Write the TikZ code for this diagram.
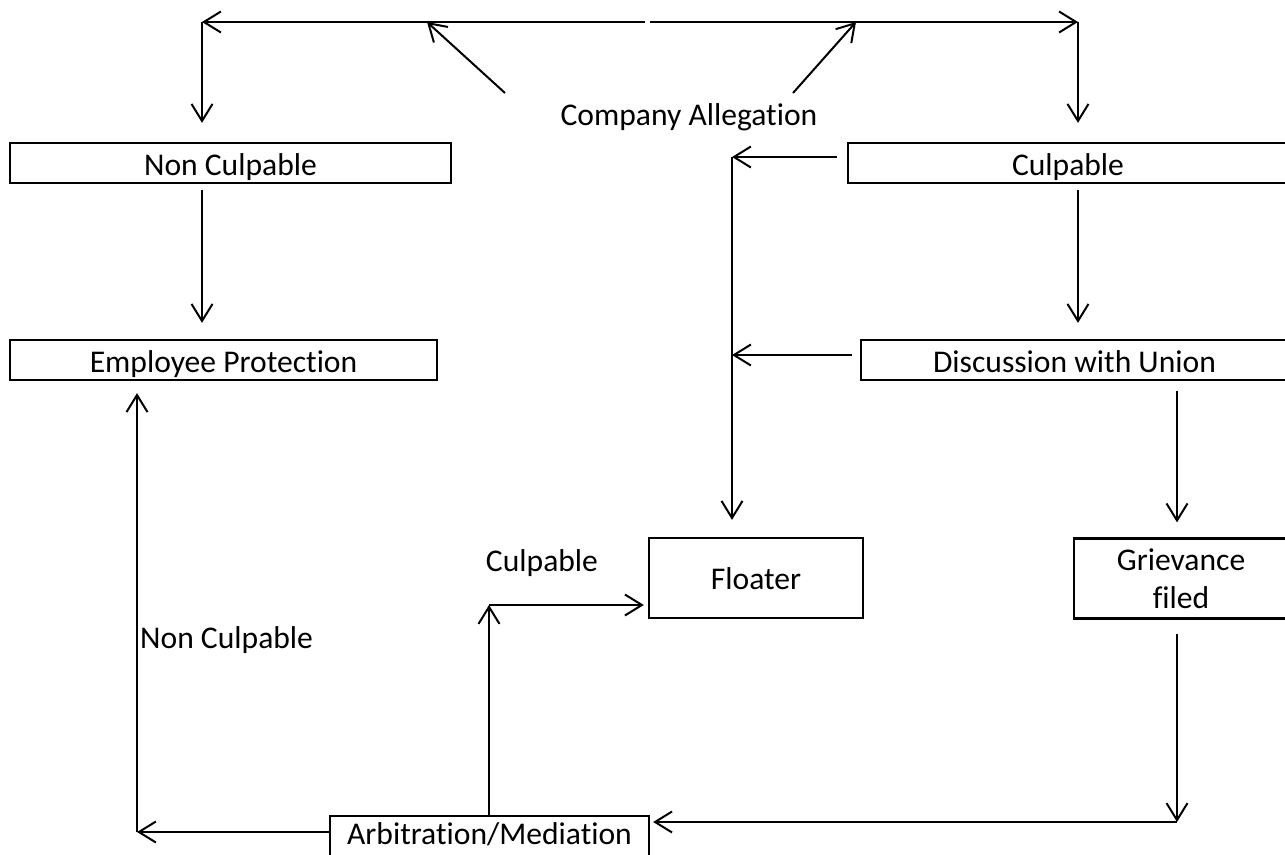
\documentclass[tikz,border=0pt]{standalone}
\usepackage{fontspec}
\setmainfont{Carlito}[Ligatures=NoCommon]
\usetikzlibrary{arrows.meta}
\begin{document}
\begin{tikzpicture}[x=1pt,y=-1pt,
  every node/.style={font=\fontsize{31.6pt}{38pt}\selectfont},
  boxnode/.style={draw,line width=2.3pt,inner xsep=0pt,inner ysep=0pt,text height=32pt,text depth=8pt},
  arr/.style={line width=2pt,-{Straight Barb[length=17pt,width=21pt]}},
  plain/.style={line width=2pt}
]
\useasboundingbox (0,0) rectangle (1285,854);
% boxes
\node[boxnode,minimum width=441pt] (nc) at (230.5,163) {Non Culpable};
\node[boxnode,minimum width=440pt] (cul) at (1068,163) {Culpable};
\node[boxnode,minimum width=427pt] (ep) at (223.5,360) {Employee Protection};
\node[boxnode,minimum width=427pt] (dwu) at (1074.5,360) {Discussion with Union};
\node[boxnode,minimum width=214pt,text height=51pt,text depth=29pt] (flo) at (756,578) {Floater};
\node[draw,line width=2.3pt,inner sep=0pt,minimum width=214pt,minimum height=80pt,align=center] (gf) at (1181,578.5) {Grievance\\filed};
\node[draw,line width=2.3pt,inner xsep=0pt,inner ysep=5pt,text height=23pt,text depth=25pt,minimum width=319pt,anchor=north] (am) at (489.5,815) {Arbitration/Mediation};
% labels
\node[anchor=base,inner sep=0pt] (ca) at (689,125) {Company Allegation};
\node[anchor=base,inner sep=0pt] (lcul) at (542,571) {Culpable};
\node[anchor=base west,inner sep=0pt] (lnc) at (140,648) {Non Culpable};
% coordinates
\coordinate (tm1) at (645,22);
\coordinate (tm2) at (650,22);
\coordinate (tl) at (202,22);
\coordinate (tr) at (1078,22);
\coordinate (ta) at (427,22);
\coordinate (tb) at (856,22);
\coordinate (ca1) at (505,93);
\coordinate (ca2) at (793,93);
\coordinate (fl1) at (732,157);
\coordinate (fl2) at (732,355);
\coordinate (gc) at (1177,822);
\coordinate (lc) at (137,832);
\coordinate (mc) at (489,605);
% top connectors
\draw[arr] (tm1) -- (tl);
\draw[arr] (tm2) -- (tr);
\draw[arr] (ca1) -- (ta);
\draw[arr] (ca2) -- (tb);
\draw[arr,shorten >=19pt] (tl) -- (tl |- nc.north);
\draw[arr,shorten >=19pt] (tr) -- (tr |- cul.north);
% left column
\draw[arr,shorten <=6pt,shorten >=16pt] (nc.south -| tl) -- (ep.north -| tl);
% right column
\draw[arr,shorten <=6pt,shorten >=16pt] (cul.south -| tr) -- (dwu.north -| tr);
\draw[arr,shorten <=10pt] (cul.west |- fl1) -- (fl1);
\draw[arr,shorten >=17pt] (fl1) -- (fl1 |- flo.north);
\draw[arr,shorten <=8pt] (dwu.west |- fl2) -- (fl2);
\draw[arr,shorten <=10pt,shorten >=15pt] (dwu.south -| gc) -- (gf.north -| gc);
\draw[arr,shorten <=14pt] (gf.south -| gc) -- (gc);
\draw[arr,shorten >=3pt] (gc) -- (am.east |- gc);
% arbitration outputs
\draw[arr] (am.west |- lc) -- (lc);
\draw[arr,shorten >=12pt] (lc) -- (lc |- ep.south);
\draw[arr] (am.north -| mc) -- (mc);
\draw[arr,shorten >=4pt] (mc) -- (mc -| flo.west);
\end{tikzpicture}
\end{document}
